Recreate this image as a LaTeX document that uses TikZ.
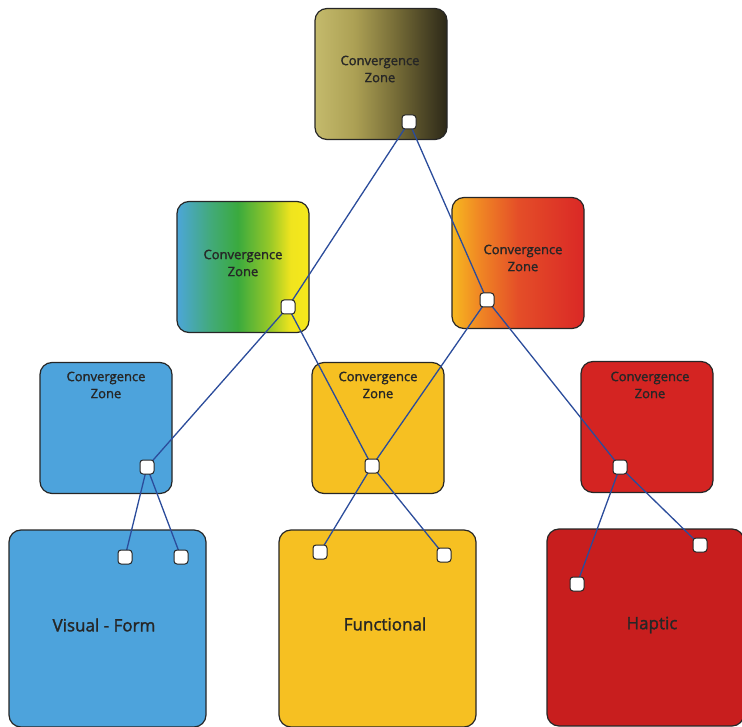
\documentclass[tikz,border=0pt]{standalone}
\usepackage{fontspec}
\setmainfont{Open Sans}
\newfontfamily\labelfont{Open Sans}[UprightFeatures={FakeBold=1.6}]
\definecolor{visblue}{HTML}{4DA3DC}
\definecolor{gold}{HTML}{F6C022}
\definecolor{zonered}{HTML}{D42422}
\definecolor{hapred}{HTML}{C81E1E}
\definecolor{wire}{HTML}{2B4C9B}
\definecolor{ink}{HTML}{262626}
% horizontal blends for the upper convergence zones
\pgfdeclarehorizontalshading{olivedark}{100bp}{
  color(0bp)=(rgb,255:red,196;green,186;blue,108);
  color(25bp)=(rgb,255:red,196;green,186;blue,108);
  color(40bp)=(rgb,255:red,172;green,160;blue,84);
  color(55bp)=(rgb,255:red,120;green,110;blue,56);
  color(75bp)=(rgb,255:red,44;green,40;blue,24);
  color(100bp)=(rgb,255:red,44;green,40;blue,24)}
\pgfdeclarehorizontalshading{bluegreenyellow}{100bp}{
  color(0bp)=(rgb,255:red,76;green,166;blue,216);
  color(25bp)=(rgb,255:red,76;green,166;blue,216);
  color(38bp)=(rgb,255:red,66;green,170;blue,120);
  color(48bp)=(rgb,255:red,58;green,170;blue,62);
  color(60bp)=(rgb,255:red,150;green,200;blue,40);
  color(68bp)=(rgb,255:red,240;green,228;blue,30);
  color(75bp)=(rgb,255:red,246;green,232;blue,28);
  color(100bp)=(rgb,255:red,246;green,232;blue,28)}
\pgfdeclarehorizontalshading{amberred}{100bp}{
  color(0bp)=(rgb,255:red,246;green,184;blue,32);
  color(25bp)=(rgb,255:red,246;green,184;blue,32);
  color(35bp)=(rgb,255:red,240;green,136;blue,36);
  color(50bp)=(rgb,255:red,228;green,78;blue,40);
  color(75bp)=(rgb,255:red,218;green,40;blue,38);
  color(100bp)=(rgb,255:red,218;green,40;blue,38)}
\begin{document}
\begin{tikzpicture}[x=1pt,y=-1pt,
  zone/.style={draw=ink, line width=1.2pt, rounded corners=12pt, inner sep=0pt,
    minimum width=132pt, minimum height=131pt},
  sense/.style={zone, minimum width=197pt, minimum height=197pt},
  port/.style={draw=ink, fill=white, line width=1pt, rounded corners=3pt,
    minimum size=14pt, inner sep=0pt},
  link/.style={draw=wire, line width=1.3pt},
  ztext/.style={font=\labelfont\fontsize{13}{17}\selectfont, align=center, text=ink},
  stext/.style={font=\labelfont\fontsize{17}{20}\selectfont, text=ink}]

\useasboundingbox (0,0) rectangle (742,727);

% convergence zones
\node[zone, shading=olivedark] (top) at (381,74) {};
\node[zone, shading=bluegreenyellow] (midL) at (243,267) {};
\node[zone, shading=amberred] (midR) at (518,263) {};
\node[zone, fill=visblue] (lowL) at (106,428) {};
\node[zone, fill=gold] (lowM) at (378,428) {};
\node[zone, fill=zonered] (lowR) at (647,427) {};

% sensory areas
\node[sense, fill=visblue] (visual) at (107.5,628.5) {};
\node[sense, fill=gold] (functional) at (377.5,628.5) {};
\node[sense, fill=hapred] (haptic) at (645.5,627.5) {};

% labels
\node[ztext] (topT) at (380,69) {Convergence\\Zone};
\node[ztext] (midLT) at (243,263) {Convergence\\Zone};
\node[ztext] (midRT) at (523,258) {Convergence\\Zone};
\node[ztext] (lowLT) at (106,385) {Convergence\\Zone};
\node[ztext] (lowMT) at (378,385) {Convergence\\Zone};
\node[ztext] (lowRT) at (650,385) {Convergence\\Zone};
\node[stext] (visualT) at (104,625) {Visual - Form};
\node[stext] (functionalT) at (385,624) {Functional};
\node[stext] (hapticT) at (652,625) {Haptic};

% ports
\coordinate (pTop) at (409,122);
\coordinate (pMidL) at (288,307);
\coordinate (pMidR) at (487,300);
\coordinate (pLowL) at (147,467);
\coordinate (pLowM) at (372,466);
\coordinate (pLowR) at (620,467);
\coordinate (pV1) at (125,557);
\coordinate (pV2) at (181,557);
\coordinate (pF1) at (320,552);
\coordinate (pF2) at (444,555);
\coordinate (pH1) at (577,584);
\coordinate (pH2) at (700,545);

% connectors
\draw[link] (pTop) -- (pMidL);
\draw[link] (pTop) -- (pMidR);
\draw[link] (pMidL) -- (pLowL);
\draw[link] (pMidL) -- (pLowM);
\draw[link] (pMidR) -- (pLowM);
\draw[link] (pMidR) -- (pLowR);
\draw[link] (pLowL) -- (pV1);
\draw[link] (pLowL) -- (pV2);
\draw[link] (pLowM) -- (pF1);
\draw[link] (pLowM) -- (pF2);
\draw[link] (pLowR) -- (pH1);
\draw[link] (pLowR) -- (pH2);

% port squares on top of the connectors
\foreach \p in {pTop,pMidL,pMidR,pLowL,pLowM,pLowR,pV1,pV2,pF1,pF2,pH1,pH2}
  \node[port] (\p-sq) at (\p) {};
\end{tikzpicture}
\end{document}
